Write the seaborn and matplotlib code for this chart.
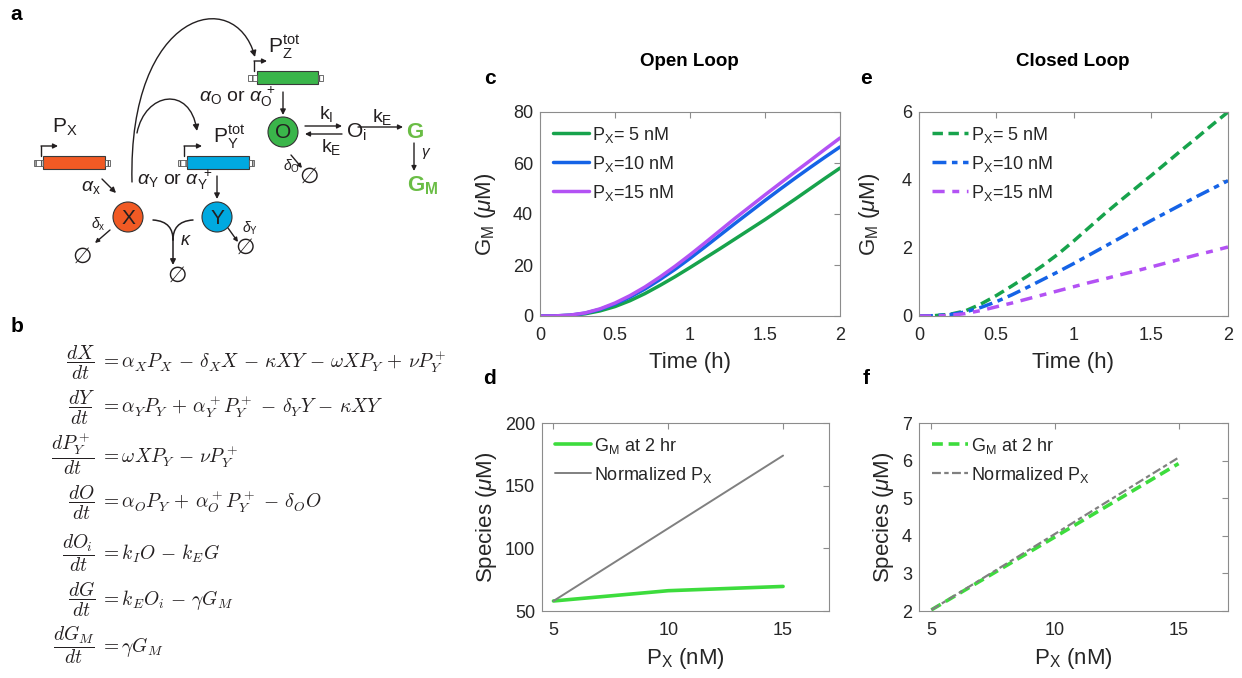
import numpy as np
import pandas as pd
import matplotlib
matplotlib.use('Agg')
import matplotlib.pyplot as plt
import seaborn as sns
from matplotlib.patches import Rectangle, Circle, FancyArrowPatch
from matplotlib.path import Path

# ---------------- data ----------------
time_h = [0, 0.1, 0.2, 0.3, 0.4, 0.5, 0.6, 0.7, 0.8, 0.9, 1.0,
          1.1, 1.2, 1.3, 1.4, 1.5, 1.6, 1.7, 1.8, 1.9, 2.0]
open_px5 = [0, 0.03, 0.25, 0.85, 2.0, 3.7, 6.0, 8.8, 12.0, 15.4, 19.0,
            22.7, 26.4, 30.2, 34.0, 37.8, 41.8, 45.8, 49.9, 54.0, 58.0]
open_px10 = [0, 0.04, 0.3, 1.1, 2.6, 4.7, 7.4, 10.6, 14.3, 18.3, 22.6,
             27.1, 31.7, 36.3, 40.8, 45.3, 49.7, 54.0, 58.2, 62.3, 66.3]
open_px15 = [0, 0.04, 0.35, 1.2, 2.8, 5.1, 8.0, 11.4, 15.3, 19.5, 24.0,
             28.7, 33.5, 38.3, 42.9, 47.5, 52.0, 56.5, 60.9, 65.4, 69.8]
closed_px5 = [0, 0.01, 0.05, 0.15, 0.35, 0.6, 0.88, 1.17, 1.48, 1.82, 2.2,
              2.6, 3.0, 3.38, 3.75, 4.12, 4.5, 4.88, 5.25, 5.63, 6.0]
closed_px10 = [0, 0.01, 0.04, 0.12, 0.25, 0.42, 0.62, 0.84, 1.07, 1.3, 1.54,
               1.79, 2.04, 2.29, 2.55, 2.8, 3.04, 3.28, 3.52, 3.75, 3.98]
closed_px15 = [0, 0.0, 0.02, 0.07, 0.16, 0.27, 0.38, 0.5, 0.62, 0.74, 0.86,
               0.98, 1.09, 1.21, 1.32, 1.44, 1.56, 1.68, 1.8, 1.91, 2.03]
series_labels = ['P$_\\mathrm{X}$= 5 nM', 'P$_\\mathrm{X}$=10 nM', 'P$_\\mathrm{X}$=15 nM']

px_nM = [5, 10, 15]
open_gm_2hr = [58.0, 66.2, 69.6]
open_norm_px = [58.0, 116.0, 174.0]
closed_gm_2hr = [2.03, 3.97, 5.92]
closed_norm_px = [2.03, 4.05, 6.08]

c_yticks = [0, 20, 40, 60, 80]
e_yticks = [0, 2, 4, 6]
t_xticks = [0, 0.5, 1, 1.5, 2]
t_xticklabels = ['0', '0.5', '1', '1.5', '2']
d_yticks = [50, 100, 150, 200]
f_yticks = [2, 3, 4, 5, 6, 7]
px_xticks = [5, 10, 15]

# ---------------- style ----------------
sns.set_theme(style='white')
plt.rcParams['font.family'] = ['Liberation Sans', 'DejaVu Sans']
plt.rcParams['mathtext.fontset'] = 'custom'
plt.rcParams['mathtext.rm'] = 'Liberation Sans'
plt.rcParams['mathtext.it'] = 'Liberation Sans:italic'
plt.rcParams['mathtext.bf'] = 'Liberation Sans:bold'
plt.rcParams['mathtext.sf'] = 'Liberation Sans'

GREEN = '#17a34c'
BLUE = '#1563e6'
PURPLE = '#b352f4'
LIME = '#3ddc3d'
GRAY = '#808080'
K = '#231f20'
TXT = '#262626'

fig = plt.figure(figsize=(12.42, 6.78), dpi=100)

W, H = 1242, 678
def frac_axes(l, t, r, b):
    return fig.add_axes([l / W, 1 - b / H, (r - l) / W, (b - t) / H])

ax0 = fig.add_axes([0, 0, 1, 1])
ax0.set_xlim(0, W)
ax0.set_ylim(H, 0)
ax0.axis('off')

axc = frac_axes(540, 112, 840, 316)
axe = frac_axes(919, 112, 1228, 316)
axd = frac_axes(542, 423, 829, 611)
axf = frac_axes(919, 423, 1228, 611)

def style(ax):
    for s in ax.spines.values():
        s.set_color('#8c8c8c')
        s.set_linewidth(0.8)
    ax.tick_params(direction='in', top=True, right=True, length=4, width=0.8,
                   color='#8c8c8c', labelsize=13, labelcolor=TXT, pad=5)
    ax.tick_params(axis='x', pad=8)

# ---- panel c ----
for vals, col, lab in zip([open_px5, open_px10, open_px15], [GREEN, BLUE, PURPLE], series_labels):
    sns.lineplot(x=time_h, y=vals, color=col, lw=2.5, label=lab, ax=axc)
axc.set_xlim(0, 2); axc.set_ylim(0, 80)
axc.set_xticks(t_xticks); axc.set_xticklabels(t_xticklabels)
axc.set_yticks(c_yticks)
axc.set_xlabel('Time (h)', fontsize=16, color=TXT, labelpad=6)
axc.set_ylabel('G$_\\mathrm{M}$ ($\\mu$M)', fontsize=16, color=TXT, labelpad=11)
style(axc)

# ---- panel e ----
for vals, col, lab, ls in zip([closed_px5, closed_px10, closed_px15], [GREEN, BLUE, PURPLE], series_labels,
                              [(0, (3, 1.6)), (0, (4, 1.6, 1.6, 1.6)), (0, (3.5, 2.2, 2, 2.2))]):
    sns.lineplot(x=time_h, y=vals, color=col, lw=2.5, label=lab, ax=axe, linestyle=ls)
axe.set_xlim(0, 2); axe.set_ylim(0, 6)
axe.set_xticks(t_xticks); axe.set_xticklabels(t_xticklabels)
axe.set_yticks(e_yticks)
axe.set_xlabel('Time (h)', fontsize=16, color=TXT, labelpad=6)
axe.set_ylabel('G$_\\mathrm{M}$ ($\\mu$M)', fontsize=16, color=TXT, labelpad=14)
style(axe)

# ---- panel d ----
sns.lineplot(x=px_nM, y=open_gm_2hr, color=LIME, lw=2.6, label='G$_\\mathrm{M}$ at 2 hr', ax=axd)
sns.lineplot(x=px_nM, y=open_norm_px, color=GRAY, lw=1.4, label='Normalized P$_\\mathrm{X}$', ax=axd)
axd.set_xlim(4.5, 17); axd.set_ylim(50, 200)
axd.set_xticks(px_xticks); axd.set_yticks(d_yticks)
axd.set_xlabel('P$_\\mathrm{X}$ (nM)', fontsize=16, color=TXT, labelpad=5)
axd.set_ylabel('Species ($\\mu$M)', fontsize=16, color=TXT, labelpad=4)
style(axd)

# ---- panel f ----
sns.lineplot(x=px_nM, y=closed_gm_2hr, color=LIME, lw=2.6, label='G$_\\mathrm{M}$ at 2 hr', ax=axf,
             linestyle=(0, (3, 1.6)))
sns.lineplot(x=px_nM, y=closed_norm_px, color=GRAY, lw=1.6, label='Normalized P$_\\mathrm{X}$', ax=axf,
             linestyle=(0, (4, 1.5, 2, 1.5)))
axf.set_xlim(4.5, 17); axf.set_ylim(2, 7)
axf.set_xticks(px_xticks); axf.set_yticks(f_yticks)
axf.set_xlabel('P$_\\mathrm{X}$ (nM)', fontsize=16, color=TXT, labelpad=5)
axf.set_ylabel('Species ($\\mu$M)', fontsize=16, color=TXT, labelpad=4)
style(axf)

for ax in (axc, axe, axd, axf):
    leg = ax.legend(loc='upper left', frameon=False, fontsize=13, handlelength=2.0,
                    handletextpad=0.2, labelspacing=0.5, borderaxespad=0.3)
    for t in leg.get_texts():
        t.set_color(TXT)

# titles and panel letters
ax0.text(689, 61, 'Open Loop', ha='center', va='center', fontsize=13.5, fontweight='bold', color='black')
ax0.text(1073, 61, 'Closed Loop', ha='center', va='center', fontsize=13.5, fontweight='bold', color='black')
for lab, x, y in [('a', 16, 14), ('b', 17, 326), ('c', 490, 79), ('e', 866, 79), ('d', 490, 379), ('f', 866, 379)]:
    ax0.text(x, y, lab, ha='center', va='center', fontsize=15, fontweight='bold', color='black')

# ---------------- schematic (panel a) ----------------
def arrow(p0, p1, lw=1.0, ms=8):
    ax0.annotate('', xy=p1, xytext=p0,
                 arrowprops=dict(arrowstyle='-|>', color=K, lw=lw, mutation_scale=ms,
                                 shrinkA=0, shrinkB=0))

def gene(x0, x1, yc, color):
    h = 13
    ax0.add_patch(Rectangle((x0, yc - h / 2), x1 - x0, h, fc=color, ec='#3a3a3a', lw=0.8))
    ax0.add_patch(Rectangle((x0 - 9, yc - 3), 9, 6, fc='white', ec='#555555', lw=0.6, hatch='|||'))
    ax0.add_patch(Rectangle((x1, yc - 3), 5, 6, fc='white', ec='#555555', lw=0.6, hatch='|||'))

def promoter(xp, ytop, xend):
    ax0.plot([xp, xp], [ytop, ytop - 10], color=K, lw=1)
    arrow((xp, ytop - 10), (xend, ytop - 10), ms=7)

gene(43, 105, 162.5, '#f15a24')
promoter(41, 156, 58)
gene(187, 249, 162.5, '#00a9e0')
promoter(184, 156, 202)
gene(257, 318, 77.5, '#3ab54a')
promoter(254, 71, 267)

for (cx, cy), col, lab in [((128, 217), '#f15a24', 'X'), ((217, 217), '#00a9e0', 'Y'), ((283, 132), '#3ab54a', 'O')]:
    ax0.add_patch(Circle((cx, cy), 15, fc=col, ec='#333333', lw=0.8))
    ax0.text(cx, cy + 1, lab, ha='center', va='center', fontsize=15, color=K)

# gene labels
ax0.text(52, 133, 'P$_\\mathrm{X}$', fontsize=15, color=K, va='baseline')
ax0.text(213, 142, 'P$_\\mathrm{Y}^\\mathrm{tot}$', fontsize=15, color=K, va='baseline')
ax0.text(268, 53, 'P$_\\mathrm{Z}^\\mathrm{tot}$', fontsize=15, color=K, va='baseline')

# curved activation arrows
big = Path([(132, 182), (128, 10), (235, -15), (255, 57)],
           [Path.MOVETO, Path.CURVE4, Path.CURVE4, Path.CURVE4])
ax0.add_patch(FancyArrowPatch(path=big, arrowstyle='-|>', mutation_scale=9, color=K, lw=1.0))
small = Path([(137, 133), (145, 92), (190, 85), (197, 131)],
             [Path.MOVETO, Path.CURVE4, Path.CURVE4, Path.CURVE4])
ax0.add_patch(FancyArrowPatch(path=small, arrowstyle='-|>', mutation_scale=9, color=K, lw=1.0))

# production arrows and labels
arrow((102, 179), (116, 193))
ax0.text(81, 191, '$\\alpha_\\mathrm{x}$', fontsize=14, color=K, va='baseline')
ax0.text(137, 185, '$\\alpha_\\mathrm{Y}$ or $\\alpha_\\mathrm{Y}^{\\;+}$', fontsize=14, color=K, va='baseline')
arrow((217, 176), (217, 199))
ax0.text(199, 102, '$\\alpha_\\mathrm{O}$ or $\\alpha_\\mathrm{O}^{\\;+}$', fontsize=14, color=K, va='baseline')
arrow((283, 92), (283, 115))

# O <-> Oi -> G -> GM
arrow((305, 126), (342, 126), ms=7)
arrow((342, 134), (305, 134), ms=7)
ax0.text(319, 119, 'k$_\\mathrm{I}$', fontsize=14, color=K, va='baseline')
ax0.text(321, 152, 'k$_\\mathrm{E}$', fontsize=14, color=K, va='baseline')
ax0.text(346, 138, 'O$_\\mathrm{i}$', fontsize=15, color=K, va='baseline')
arrow((358, 127), (403, 127), ms=7)
ax0.text(372, 122, 'k$_\\mathrm{E}$', fontsize=14, color=K, va='baseline')
ax0.text(406, 138, 'G', fontsize=16, color='#6abd45', fontweight='bold', va='baseline')
arrow((414, 143), (414, 171), ms=7)
ax0.text(421, 156, '$\\gamma$', fontsize=11, color=K, va='baseline')
ax0.text(407, 191, '$\\mathbf{G_M}$', fontsize=16, color='#6abd45', va='baseline')

# degradation
def nullset(x, y):
    ax0.text(x, y, '$\\emptyset$', fontsize=16, color=K, ha='center', va='center', math_fontfamily='dejavusans')

arrow((291, 155), (302, 168), ms=6)
ax0.text(283, 171, '$\\delta_\\mathrm{O}$', fontsize=10, color=K, va='baseline')
nullset(309, 177)
arrow((110, 230), (95, 243), ms=6)
ax0.text(91, 229, '$\\delta_\\mathrm{x}$', fontsize=10, color=K, va='baseline')
nullset(82, 257)
arrow((228, 228), (238, 242), ms=6)
ax0.text(242, 233, '$\\delta_\\mathrm{Y}$', fontsize=10, color=K, va='baseline')
nullset(245, 248)
# kappa annihilation
for p in ([(153, 220), (168, 221), (173, 229), (173, 240)], [(193, 220), (178, 221), (173, 229), (173, 240)]):
    ax0.add_patch(FancyArrowPatch(path=Path(p, [Path.MOVETO, Path.CURVE4, Path.CURVE4, Path.CURVE4]),
                                  arrowstyle='-', color=K, lw=1.1))
arrow((173, 238), (173, 265), lw=1.1)
ax0.text(180, 245, '$\\kappa$', fontsize=13, color=K, va='baseline')
nullset(177, 276)

# ---------------- equations (panel b) ----------------
equations = [
    (r'$\dfrac{dX}{dt}$', r'$= \alpha_X P_X \,-\, \delta_X X \,-\, \kappa X Y \,-\, \omega X P_Y \,+\, \nu P_Y^+$', 363),
    (r'$\dfrac{dY}{dt}$', r'$= \alpha_Y P_Y \,+\, \alpha_Y^+ P_Y^+ \,-\, \delta_Y Y \,-\, \kappa X Y$', 408),
    (r'$\dfrac{dP_Y^+}{dt}$', r'$= \omega X P_Y \,-\, \nu P_Y^+$', 458),
    (r'$\dfrac{dO}{dt}$', r'$= \alpha_O P_Y \,+\, \alpha_O^+ P_Y^+ \,-\, \delta_O O$', 503),
    (r'$\dfrac{dO_i}{dt}$', r'$= k_I O \,-\, k_E G$', 555),
    (r'$\dfrac{dG}{dt}$', r'$= k_E O_i \,-\, \gamma G_M$', 600),
    (r'$\dfrac{dG_M}{dt}$', r'$= \gamma G_M$', 647),
]
for lhs, rhs, ybar in equations:
    ax0.text(95, ybar + 5, lhs, fontsize=14, ha='right', va='baseline', math_fontfamily='cm', color=K)
    ax0.text(100, ybar + 5, rhs, fontsize=14, ha='left', va='baseline', math_fontfamily='cm', color=K)

fig.savefig('out.png', dpi=100)
